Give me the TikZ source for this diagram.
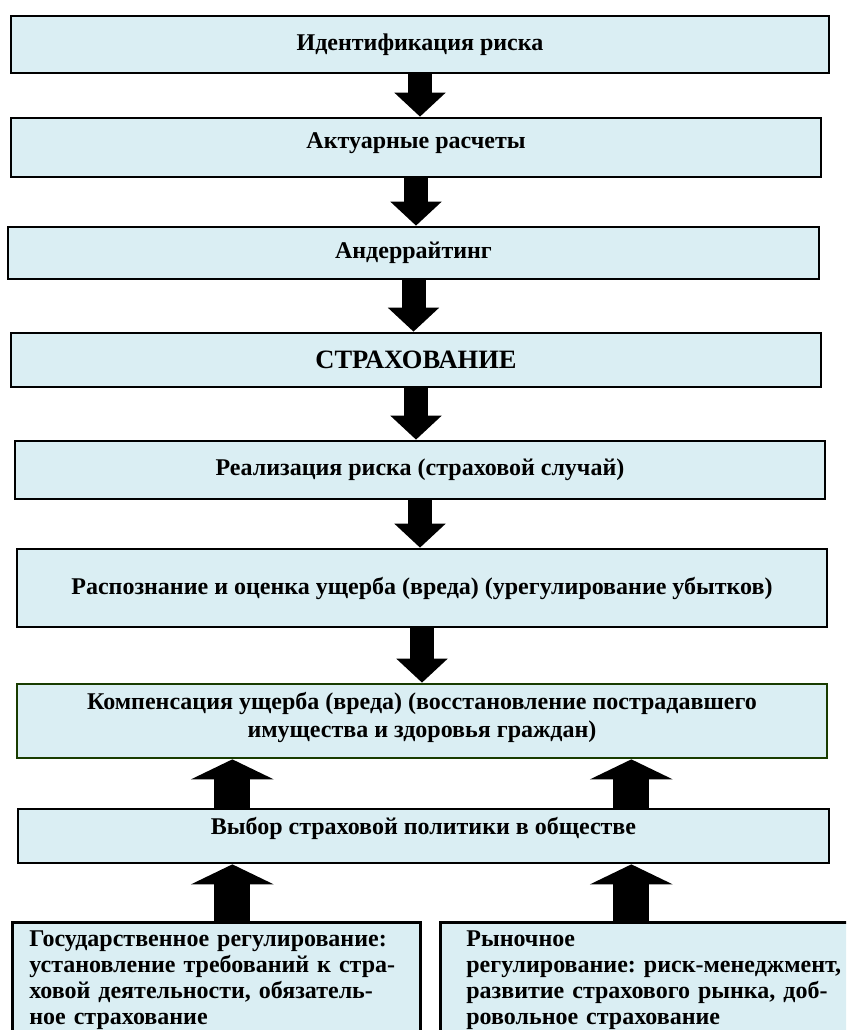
\documentclass[tikz,border=0pt]{standalone}
\usepackage{fontspec}
\setmainfont{Liberation Serif}
\usepackage{tikz}
\usetikzlibrary{arrows.meta}
\definecolor{stageFill}{RGB}{218, 238, 243}
\definecolor{goalLine}{RGB}{25, 60, 0}
\frenchspacing
\tikzset{
  stage/.style={draw=black, line width=2.7pt, fill=stageFill, inner sep=4pt, align=center},
  policybox/.style={stage, anchor=north west, inner xsep=24pt, inner ysep=8pt, align=left,
    font=\bfseries\fontsize{24}{26}\selectfont},
  downarrow/.style={line width=24pt, -{Triangle[width=50pt, length=24pt]}},
  uparrow/.style={line width=36pt, -{Triangle[width=82pt, length=20pt]}}
}

\begin{document}
\begin{tikzpicture}[x=1pt, y=-1pt, font=\bfseries\fontsize{24}{28}\selectfont]
  \clip (0,0) rectangle (846,1030);
  % Chain of stages
  \node[stage, minimum width=818pt, minimum height=57pt] (ident) at (420,44.5) {Идентификация риска};
  \node[stage, minimum width=810pt, minimum height=59pt, text depth=13pt] (actuar) at (416,147.5) {Актуарные расчеты};
  \node[stage, minimum width=811pt, minimum height=52pt] (under) at (413.5,253) {Андеррайтинг};
  \node[stage, minimum width=810pt, minimum height=54pt, font=\bfseries\fontsize{26.5}{30}\selectfont] (insur) at (416,360) {СТРАХОВАНИЕ};
  \node[stage, minimum width=810pt, minimum height=58pt] (event) at (420,470) {Реализация риска (страховой случай)};
  \node[stage, minimum width=810pt, minimum height=78pt] (assess) at (422,588) {Распознание и оценка ущерба (вреда) (урегулирование убытков)};
  \node[stage, draw=goalLine, minimum width=810pt, minimum height=74pt, text depth=12pt] (comp) at (422,721) {Компенсация ущерба (вреда) (восстановление пострадавшего\\имущества и здоровья граждан)};
  \node[stage, minimum width=811pt, minimum height=54pt, text depth=20pt] (policy) at (423.5,836) {Выбор страховой политики в обществе};
  % Two kinds of regulation
  \node[policybox, text width=374pt, inner xsep=17pt] (gov) at (11,921) {Государственное регулирование:\\установление требований к стра-\\ховой деятельности, обязатель-\\ное страхование};
  \node[policybox, text width=392pt, inner xsep=26pt] (market) at (439,921) {Рыночное\\регулирование: риск-менеджмент,\\развитие страхового рынка, доб-\\ровольное страхование};
  % Arrows down the chain
  \draw[downarrow] (ident.south) -- (ident.south |- actuar.north);
  \draw[downarrow] (actuar.south) -- (actuar.south |- under.north);
  \draw[downarrow] (under.south) -- (under.south |- insur.north);
  \draw[downarrow] (insur.south) -- (insur.south |- event.north);
  \draw[downarrow] (event.south) -- (event.south |- assess.north);
  \draw[downarrow] (assess.south) -- (assess.south |- comp.north);
  % Arrows up from regulation
  \coordinate (leftcol) at ([xshift=16pt]gov.north);
  \coordinate (rightcol) at ([xshift=-31pt]market.north);
  \draw[uparrow] (leftcol) -- (leftcol |- policy.south);
  \draw[uparrow] (rightcol) -- (rightcol |- policy.south);
  \draw[uparrow] (policy.north -| leftcol) -- (leftcol |- comp.south);
  \draw[uparrow] (policy.north -| rightcol) -- (rightcol |- comp.south);
\end{tikzpicture}
\end{document}
